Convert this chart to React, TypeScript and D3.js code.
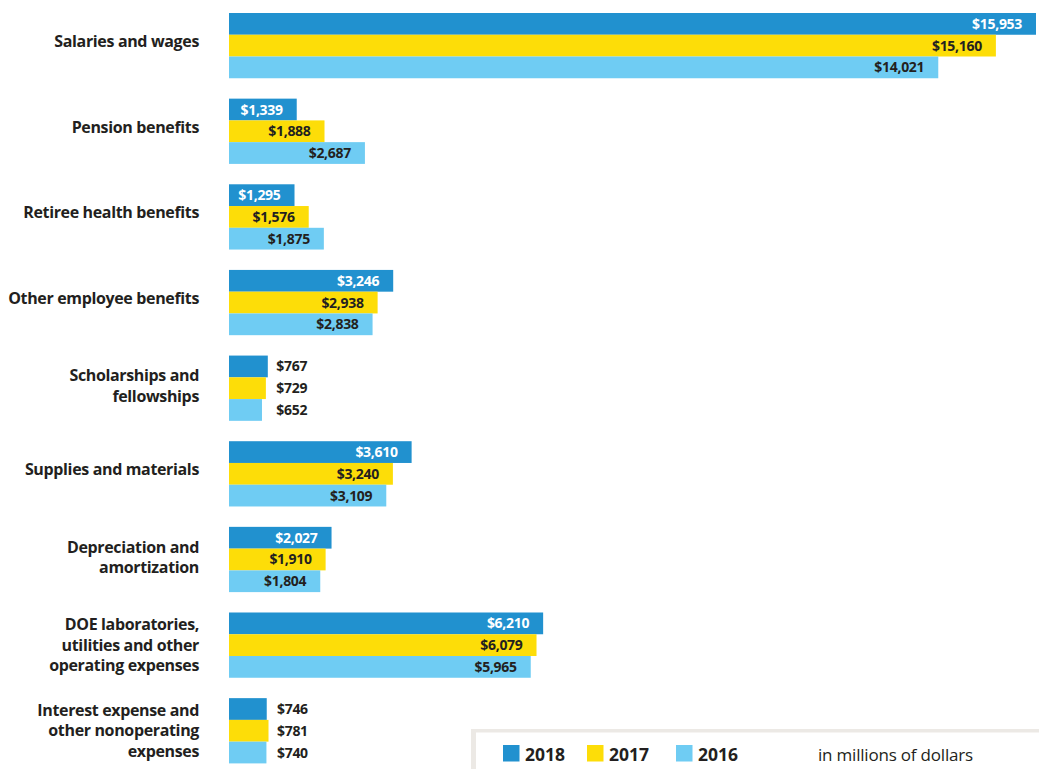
import React from "react";
import * as d3 from "d3";

const categories: string[][] = [
  ["Salaries and wages"],
  ["Pension benefits"],
  ["Retiree health benefits"],
  ["Other employee benefits"],
  ["Scholarships and", "fellowships"],
  ["Supplies and materials"],
  ["Depreciation and", "amortization"],
  ["DOE laboratories,", "utilities and other", "operating expenses"],
  ["Interest expense and", "other nonoperating", "expenses"],
];
const years = ["2018", "2017", "2016"];
const values2018 = [15953, 1339, 1295, 3246, 767, 3610, 2027, 6210, 746];
const values2017 = [15160, 1888, 1576, 2938, 729, 3240, 1910, 6079, 781];
const values2016 = [14021, 2687, 1875, 2838, 652, 3109, 1804, 5965, 740];
const colors = ["#2191cf", "#fddd08", "#6fccf3"];
const labelColors = ["#ffffff", "#231f20", "#231f20"];
const unitNote = "in millions of dollars";

const W = 1039;
const H = 769;
const FONT = "'Open Sans', 'Noto Sans', sans-serif";

export default function App() {
  const series = [values2018, values2017, values2016];
  const keys = categories.map((c) => c.join(" "));
  const y = d3.scaleBand<string>().domain(keys).range([13, 763.4]).paddingInner(0.238).paddingOuter(0);
  const yInner = d3.scaleBand<string>().domain(years).range([0, y.bandwidth()]).padding(0);
  const x = d3.scaleLinear().domain([0, 15953]).range([229, 1036]);
  const fmt = (v: number) => "$" + d3.format(",")(v);

  return (
    <div style={{ position: "absolute", left: 0, top: 0 }}>
      <svg width={W} height={H} style={{ display: "block", background: "#fff" }}>
        {categories.map((lines, i) => {
          const key = keys[i];
          const gy = y(key)!;
          const n = lines.length;
          const midBase = gy + y.bandwidth() / 2 + 1.5 + (n - 1) * 2;
          const lh = 20.5;
          const vals = series.map((s) => s[i]);
          const maxEnd = x(d3.max(vals)!);
          const small = maxEnd - x(0) < 60;
          return (
            <g key={key}>
              <text
                textAnchor="end"
                fontFamily={FONT}
                fontWeight={700}
                fontSize={16}
                fill="#231f20"
                letterSpacing={-0.35}
              >
                {lines.map((ln, j) => (
                  <tspan key={j} x={199} y={midBase + (j - (n - 1) / 2) * lh}>
                    {ln}
                  </tspan>
                ))}
              </text>
              {years.map((yr, k) => {
                const v = vals[k];
                const by = gy + yInner(yr)!;
                const bh = yInner.bandwidth();
                return (
                  <g key={yr}>
                    <rect x={x(0)} y={by} width={x(v) - x(0)} height={bh} fill={colors[k]} />
                    <text
                      x={small ? maxEnd + 8.5 : x(v) - 14}
                      y={by + bh / 2 + 5}
                      textAnchor={small ? "start" : "end"}
                      fontFamily={FONT}
                      fontWeight={700}
                      fontSize={14}
                      letterSpacing={-0.3}
                      fill={small ? "#231f20" : labelColors[k]}
                    >
                      {fmt(v)}
                    </text>
                  </g>
                );
              })}
            </g>
          );
        })}
        <g>
          <rect x={471} y={729} width={W - 471} height={H - 729} fill="#ece9e5" />
          <rect x={476} y={732.5} width={W - 476} height={H - 732.5} fill="#ffffff" />
          {years.map((yr, k) => {
            const lx = [503, 587, 676][k];
            return (
              <g key={yr}>
                <rect x={lx} y={745} width={16.5} height={16.5} fill={colors[k]} />
                <text
                  x={lx + 22}
                  y={760.5}
                  fontFamily={FONT}
                  fontWeight={700}
                  fontSize={17.5}
                  fill="#231f20"
                >
                  {yr}
                </text>
              </g>
            );
          })}
          <text x={818} y={760.5} fontFamily={FONT} fontSize={17} fill="#231f20" letterSpacing={-0.2}>
            {unitNote}
          </text>
        </g>
      </svg>
    </div>
  );
}
